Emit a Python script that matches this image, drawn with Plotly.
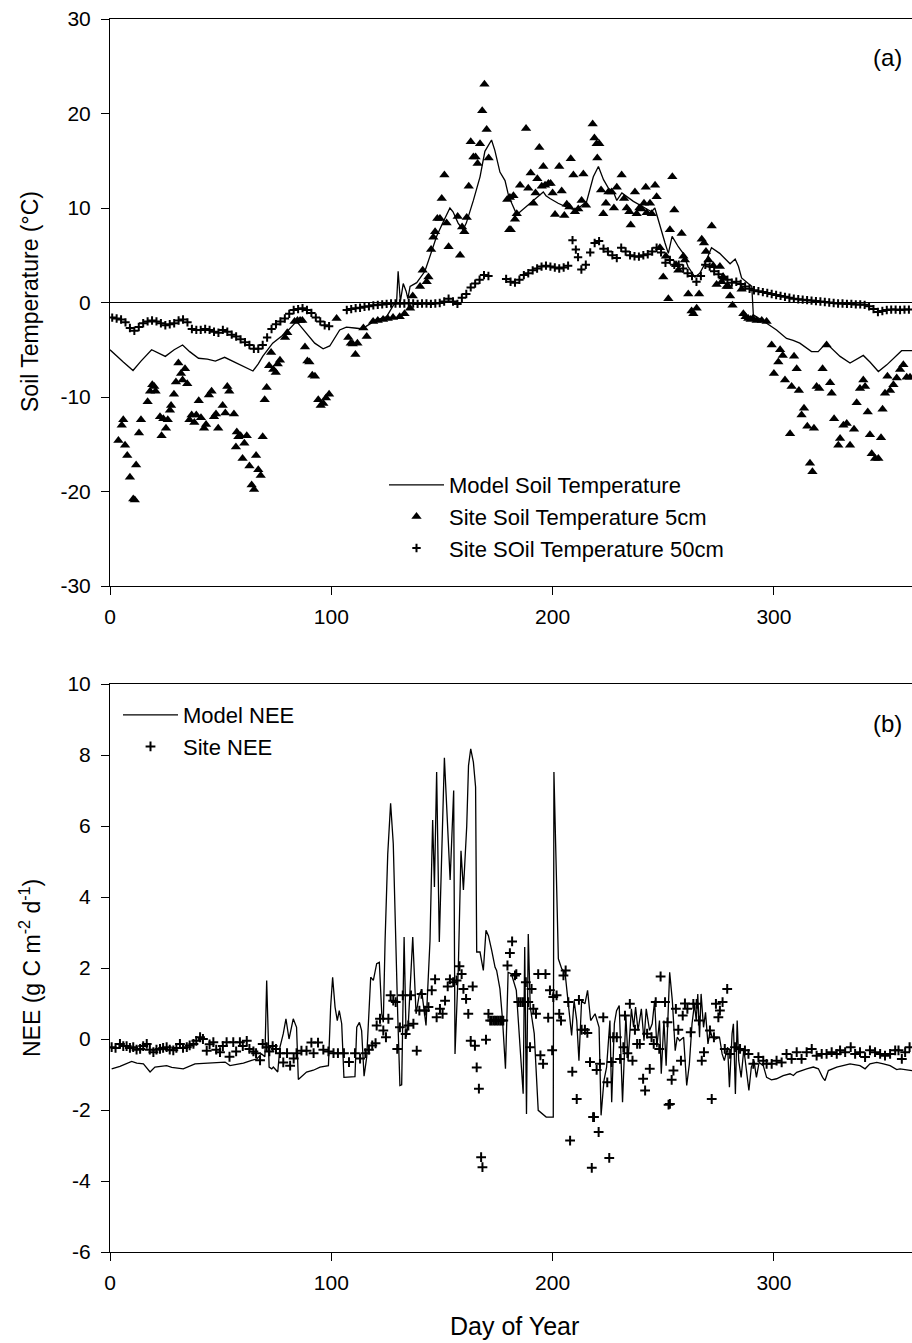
import plotly.graph_objects as go

# ---------------- Panel (a): soil temperature ----------------
model_temp_day = [0, 3, 6, 10.4, 14, 18.8, 22, 25, 29, 32.8, 36, 40, 44, 47.6, 51.8, 56, 60.8, 64.6, 67, 69,
                  73.5, 79.5, 84.3, 88.8, 92.5, 96.3, 99.3, 103.8, 106.8, 110.5, 114.4, 115.9, 120, 125, 128,
                  129.5, 130.2, 131.2, 132.5, 133.8, 134.6, 135.6, 138.6, 142.3, 144.6, 147.6, 150.6, 153.6,
                  155, 157.3, 159.5, 161, 164.2, 167.2, 169.4, 172.4, 173.9, 176.2, 178.5, 180.2, 183.8, 187.5,
                  191.3, 195.8, 197, 198.8, 202.5, 206.3, 210, 212.3, 215.4, 218.4, 220.7, 223, 225.2, 227.5,
                  229, 231.3, 236.5, 241, 244.7, 246.2, 248.5, 250.8, 252.3, 254, 256.8, 259, 261.2, 264.3,
                  266.5, 268.8, 271.8, 275.5, 280.2, 282.5, 284, 285.4, 288.4, 290, 290.7, 293.5, 296.7, 301.2,
                  305.7, 308.7, 311.7, 317, 320, 323.6, 326.6, 329.9, 334.4, 340.4, 343.4, 347.2, 351, 355.5,
                  357.7, 362.4]
model_temp_val = [-5.0, -5.6, -6.3, -7.2, -6.2, -5.0, -5.4, -5.7, -5.0, -4.5, -5.2, -5.9, -6.0, -6.2, -5.8, -6.3,
                  -6.8, -7.25, -6.5, -5.7, -4.3, -3.2, -2.0, -3.2, -4.3, -4.9, -4.6, -2.9, -2.6, -2.7, -2.8,
                  -2.5, -1.9, -1.5, -0.3, 0.0, 3.3, 0.1, 2.0, 1.2, 0.4, 1.7, 2.1, 3.3, 4.85, 7.0, 8.55, 10.0,
                  9.6, 8.4, 7.7, 8.4, 10.8, 13.3, 16.0, 17.2, 16.1, 13.8, 12.9, 11.2, 9.3, 10.0, 10.8, 11.7,
                  11.3, 11.0, 10.5, 10.1, 9.8, 10.1, 10.7, 13.3, 14.4, 13.0, 12.1, 11.7, 10.8, 11.6, 10.7,
                  10.1, 9.6, 10.0, 8.0, 6.3, 5.2, 7.0, 5.9, 5.2, 3.8, 2.7, 3.1, 4.1, 5.8, 5.2, 4.1, 4.6, 3.8,
                  2.6, 2.0, 1.7, -1.3, -1.7, -2.2, -2.9, -3.8, -4.0, -4.3, -5.2, -5.2, -4.3, -5.0, -5.7, -6.4,
                  -5.6, -6.3, -7.3, -6.6, -5.6, -5.1, -5.1]

site_t5_day = [3.8, 5.3, 6.0, 6.8, 7.8, 9.0, 10.5, 11.2, 11.8, 13.1, 14.0, 17.0, 18.1, 19.1, 20.0, 20.6, 22.6,
               23.3, 24.1, 25.3, 26.1, 27.1, 27.6, 28.9, 29.8, 30.9, 32.1, 32.8, 33.9, 34.9, 35.9, 36.9, 38.1,
               39.0, 40.1, 41.1, 42.5, 43.4, 44.7, 45.9, 47.0, 47.9, 48.9, 50.9, 52.1, 53.0, 53.9, 56.0, 56.9,
               57.3, 58.0, 59.0, 59.9, 60.7, 61.8, 63.0, 64.0, 65.1, 66.0, 67.0, 68.1, 69.0, 69.9, 70.8, 71.9,
               72.8, 73.8, 74.9, 75.8, 76.8, 79.1, 80.1, 83.4, 84.7, 85.9, 86.9, 88.1, 89.2, 90.1, 91.4, 92.6,
               94.1, 95.2, 96.4, 97.6, 99.0, 102.4, 107.7, 108.8, 109.7, 110.9, 111.8, 114.5, 116.0, 118.9,
               121.0, 123.4, 125.5, 127.9, 130.9, 133.1, 135.6, 136.8, 140.1, 141.3, 143.1, 143.9, 145.1,
               146.1, 146.9, 147.9, 149.1, 149.9, 151.1, 152.1, 153.0, 157.1, 158.2, 159.1, 160.1, 161.2,
               162.1, 163.0, 164.2, 165.2, 166.1, 167.2, 168.2, 169.2, 170.2, 171.1, 179.5, 180.4, 180.7,
               181.1, 182.3, 183.0, 183.8, 185.3, 188.0, 189.0, 190.1, 191.3, 192.3, 193.1, 194.0, 195.1,
               195.8, 196.6, 198.1, 199.1, 200.0, 201.1, 203.0, 204.1, 205.3, 206.4, 207.6, 208.2, 209.4,
               210.1, 211.6, 213.1, 213.9, 215.1, 218.1, 218.9, 219.9, 220.2, 221.1, 221.9, 222.9, 224.1,
               225.2, 226.7, 227.7, 229.0, 231.2, 232.3, 233.5, 234.7, 235.3, 237.2, 238.0, 239.2, 240.2,
               241.3, 242.1, 242.5, 244.0, 244.8, 246.3, 247.0, 248.5, 250.0, 251.2, 252.3, 253.0, 254.1,
               255.0, 255.8, 256.8, 258.3, 259.1, 259.8, 261.3, 262.8, 263.6, 265.1, 266.2, 267.4, 268.4,
               269.3, 270.4, 271.9, 272.6, 274.1, 275.6, 276.4, 277.1, 278.6, 279.4, 280.2, 281.3, 285.4,
               286.2, 287.2, 288.4, 289.5, 290.5, 292.2, 294.5, 296.7, 299.0, 300.0, 302.0, 302.8, 304.0,
               305.0, 307.3, 308.0, 309.1, 310.3, 311.3, 312.5, 313.6, 315.1, 316.3, 317.4, 318.1, 319.3,
               320.5, 322.0, 323.8, 325.4, 326.1, 327.2, 329.1, 329.9, 331.4, 332.9, 334.4, 336.2, 337.4,
               338.9, 340.4, 341.2, 342.4, 343.4, 344.2, 345.7, 347.2, 348.4, 349.1, 350.2, 351.3, 352.5,
               354.0, 355.5, 357.0, 358.5, 360.0, 361.5]
site_t5_val = [-14.6, -13.0, -12.4, -15.1, -16.2, -18.5, -20.8, -20.9, -17.2, -13.8, -12.4, -10.5, -9.4, -8.7,
               -8.9, -9.4, -12.1, -14.1, -12.3, -13.3, -12.4, -11.4, -10.9, -9.7, -8.4, -6.4, -7.5, -8.2, -7.0,
               -8.6, -12.4, -11.9, -12.7, -11.9, -10.4, -12.2, -13.3, -12.9, -9.8, -9.4, -12.1, -11.8, -13.3,
               -10.9, -11.7, -8.9, -9.4, -11.8, -15.3, -13.7, -14.2, -14.1, -16.5, -14.9, -14.1, -17.3, -19.3,
               -19.8, -16.2, -17.7, -18.3, -14.2, -10.3, -9.0, -6.7, -5.3, -7.1, -7.4, -6.5, -6.1, -3.7, -3.2,
               -2.0, -1.9, -1.9, -1.9, -4.7, -6.2, -6.3, -7.7, -7.8, -10.3, -10.9, -10.7, -10.1, -9.7, -1.7,
               -3.7, -4.3, -4.4, -5.5, -4.3, -2.7, -3.6, -2.0, -1.9, -1.8, -1.7, -1.6, -1.5, -1.2, -0.6, 0.7,
               1.7, 3.4, 2.2, 2.7, 5.6, 6.9, 7.5, 8.9, 8.9, 11.0, 13.5, 8.4, 5.9, 9.1, 5.0, 8.0, 7.5, 9.0, 12.3,
               17.0, 15.4, 15.4, 14.7, 16.8, 20.3, 23.1, 18.3, 15.3, 10.9, 7.7, 11.1, 7.7, 11.3, 8.8, 9.4, 12.4,
               18.4, 12.1, 13.7, 10.5, 11.6, 13.1, 16.4, 12.3, 14.4, 12.4, 12.6, 12.6, 11.6, 9.3, 14.4, 11.8,
               9.2, 10.4, 10.1, 15.2, 13.5, 9.6, 9.9, 10.8, 13.6, 10.3, 18.9, 17.4, 16.8, 15.3, 16.8, 11.9, 9.4,
               10.5, 11.7, 11.7, 10.0, 12.2, 13.5, 11.0, 10.0, 9.6, 8.2, 11.7, 9.4, 10.0, 9.9, 10.5, 12.2, 9.5,
               10.5, 9.4, 12.4, 11.2, 5.8, 2.7, 4.9, 0.4, 7.7, 13.3, 9.8, 4.0, 3.4, 7.3, 4.9, 4.5, 0.9, -0.9,
               -1.2, -0.6, 0.9, 6.7, 6.3, 5.4, 4.5, 8.1, 3.9, 1.9, 3.8, 2.2, 2.7, 1.7, 1.7, 0.7, -0.3, 1.4,
               -1.2, -1.5, -1.7, -1.8, -1.7, -1.9, -1.9, -2.0, -4.5, -7.5, -6.3, -5.0, -5.6, -8.2, -13.9, -8.9,
               -5.7, -7.0, -9.3, -11.9, -11.2, -13.1, -17.0, -17.9, -13.3, -8.9, -9.1, -7.0, -4.5, -8.5, -9.6,
               -12.3, -15.1, -14.4, -13.0, -12.8, -15.1, -13.4, -10.6, -9.1, -8.2, -8.9, -11.6, -14.0, -16.0,
               -16.5, -16.5, -14.3, -11.3, -9.6, -7.8, -9.3, -8.7, -8.0, -7.1, -6.6, -7.9, -7.9]

site_t50_day = [1, 3, 5, 7, 9, 11, 13, 15, 17, 19, 21, 23, 25, 27, 29, 31, 33, 35, 37, 39, 41, 43, 45, 47, 49,
                51, 53, 55, 57, 59, 61, 63, 65, 67, 69, 71, 73, 75, 77, 79, 81, 83, 85, 87, 89, 91, 93, 95, 97,
                99, 107, 109, 111, 113, 115, 117, 119, 121, 123, 125, 127, 129, 131, 133, 135, 137, 139, 141,
                143, 145, 147, 149, 151, 153, 155, 157, 159, 161, 163, 165, 167, 169, 171, 179, 181, 183, 185,
                187, 189, 191, 193, 195, 197, 199, 201, 203, 205, 207, 209, 210.5, 211.5, 213, 215, 217, 219,
                221, 223, 225, 227, 229, 231, 233, 235, 237, 239, 241, 243, 245, 247, 249, 251, 253, 255, 257,
                259, 261, 263, 265, 267, 269, 271, 273, 275, 277, 279, 281, 283, 285, 287, 289, 291, 293, 295,
                297, 299, 301, 303, 305, 307, 309, 311, 313, 315, 317, 319, 321, 323, 325, 327, 329, 331, 333,
                335, 337, 339, 341, 343, 345, 347, 349, 351, 353, 355, 357, 359, 361]
site_t50_val = [-1.6, -1.7, -1.8, -2.1, -2.7, -3.0, -2.6, -2.2, -2.0, -1.9, -2.0, -2.2, -2.4, -2.3, -2.2, -1.9,
                -1.8, -2.1, -2.8, -2.9, -2.9, -2.8, -2.9, -3.1, -3.2, -2.9, -3.1, -3.4, -3.6, -3.9, -4.2, -4.5,
                -4.9, -4.9, -4.5, -3.7, -2.8, -2.3, -2.0, -1.7, -1.2, -0.8, -0.7, -0.6, -0.8, -1.1, -1.6, -2.0,
                -2.4, -2.5, -0.8, -0.7, -0.6, -0.55, -0.45, -0.4, -0.3, -0.25, -0.2, -0.15, -0.1, -0.1, -0.1,
                -0.1, -0.05, -0.1, -0.15, -0.1, -0.1, -0.15, -0.1, -0.05, 0.1, 0.4, 0.1, -0.15, 0.5, 0.9, 1.6,
                2.0, 2.4, 2.9, 2.8, 2.5, 2.2, 2.1, 2.4, 2.9, 3.1, 3.4, 3.6, 3.8, 3.9, 3.8, 3.7, 3.6, 3.7, 3.9,
                6.6, 5.6, 4.8, 3.5, 4.0, 5.3, 6.3, 6.5, 5.7, 5.4, 5.0, 4.7, 5.8, 5.4, 5.0, 4.9, 4.85, 5.0, 5.1,
                5.4, 5.8, 5.3, 4.2, 4.5, 4.0, 4.0, 3.6, 3.1, 2.8, 2.2, 2.8, 4.0, 3.8, 3.3, 3.0, 2.7, 2.4, 2.1,
                2.2, 1.95, 1.7, 1.45, 1.3, 1.2, 1.1, 1.0, 0.9, 0.8, 0.7, 0.6, 0.5, 0.4, 0.35, 0.3, 0.25, 0.2,
                0.15, 0.1, 0.05, 0.0, -0.05, -0.1, -0.1, -0.15, -0.15, -0.2, -0.2, -0.25, -0.4, -0.7, -1.0,
                -0.9, -0.8, -0.75, -0.75, -0.8, -0.75, -0.75]

# ---------------- Panel (b): NEE ----------------
model_nee_day = [0.75, 4.5, 9.8, 12.1, 15.1, 18.1, 20.3, 25.6, 27.9, 33.1, 38.4, 45.2, 52.0, 54.2, 60.3, 64.0,
                 66.3, 68.5, 70.0, 70.8, 71.9, 73.1, 73.8, 75.8, 76.8, 78.3, 79.5, 80.9, 82.8, 84.3, 85.1, 88.8,
                 91.9, 94.9, 98.7, 99.7, 100.6, 101.7, 102.7, 103.6, 104.7, 105.7, 108.4, 110.7, 111.5, 112.7,
                 113.7, 114.8, 116.0, 117.2, 117.8, 119.0, 120.5, 121.7, 122.8, 123.5, 124.3, 125.5, 126.8,
                 128.0, 128.8, 130.0, 131.0, 131.8, 132.9, 133.8, 134.8, 136.8, 138.3, 139.8, 140.8, 142.8,
                 144.6, 145.8, 146.6, 147.6, 148.8, 151.1, 153.7, 155.3, 155.9, 157.4, 158.6, 159.7, 161.2,
                 162.0, 163.0, 164.2, 165.2, 165.7, 167.2, 168.7, 169.9, 171.0, 172.5, 174.0, 174.7, 176.2,
                 177.4, 178.7, 179.9, 181.4, 183.6, 186.7, 187.4, 188.2, 189.0, 189.9, 191.7, 193.5, 197.1,
                 200.3, 200.6, 202.6, 204.1, 205.6, 207.1, 208.6, 209.7, 210.9, 211.9, 213.1, 214.6, 215.8,
                 217.2, 219.2, 221.0, 221.9, 223.2, 224.4, 225.9, 226.7, 227.9, 228.9, 230.1, 231.6, 233.1,
                 234.1, 235.6, 236.6, 237.5, 238.6, 240.1, 241.3, 242.3, 243.8, 245.0, 246.1, 247.1, 248.3,
                 249.1, 250.3, 251.3, 252.9, 254.1, 255.4, 256.3, 257.4, 259.2, 260.6, 261.8, 263.0, 264.1,
                 264.9, 265.6, 266.4, 267.1, 268.2, 269.1, 270.2, 271.2, 272.1, 273.6, 275.4, 276.6, 277.6,
                 279.1, 279.9, 281.1, 281.7, 282.6, 283.4, 284.1, 285.2, 286.4, 287.5, 288.7, 289.8, 291.0,
                 292.1, 293.3, 295.2, 296.7, 298.9, 301.2, 304.2, 307.3, 308.8, 310.3, 314.8, 317.8, 320.1,
                 322.0, 323.1, 324.6, 328.4, 334.4, 338.9, 341.2, 343.4, 346.5, 349.5, 352.5, 355.5, 357.0,
                 362.4]
model_nee_val = [-0.84, -0.77, -0.63, -0.68, -0.7, -0.93, -0.79, -0.75, -0.8, -0.84, -0.7, -0.68, -0.65, -0.75,
                 -0.68, -0.6, -0.56, -0.42, -0.5, 1.65, -0.79, -0.84, -0.79, -0.93, -0.23, 0.15, 0.57, 0.0, 0.57,
                 0.33, -1.14, -0.93, -0.88, -0.79, -0.75, 0.9, 1.74, 0.9, 0.52, 0.8, 0.43, -1.08, -1.08, -1.06,
                 0.33, 0.47, 0.24, -1.05, -0.51, 0.8, 1.74, 1.65, 2.12, 2.16, 0.71, 0.47, 2.77, 5.2, 6.64, 5.5,
                 3.3, 0.71, -1.31, -1.29, 2.87, 0.05, 0.43, 2.87, 0.71, 1.27, 1.37, 0.38, 2.77, 6.17, 4.28, 7.52,
                 2.73, 7.92, 4.48, 7.0, -0.42, 2.0, 5.3, 4.2, 6.0, 7.7, 8.17, 7.8, 7.1, 2.45, 2.45, 1.93, 3.06,
                 2.91, 2.49, 2.02, 1.93, 1.41, 0.52, -0.84, 1.88, 1.83, 1.37, -1.54, 2.59, -2.11, 2.96, 0.9,
                 0.15, -2.01, -2.2, -2.2, 7.52, 2.26, 1.98, 1.88, 0.99, 0.1, 1.08, 0.52, -0.61, 1.08, 0.99, 1.37,
                 0.52, 0.71, 0.33, -2.15, -1.17, -0.79, 0.52, -1.78, 0.43, 0.8, 0.94, -1.78, 0.66, -0.61, 0.85,
                 0.33, 0.9, 0.24, 0.85, -0.05, 0.85, 0.24, 0.43, 1.08, -0.23, 0.52, -0.98, 0.52, -0.75, 1.88,
                 1.08, -0.33, 0.05, -0.05, 0.05, -1.31, -0.7, 0.43, 0.99, 0.52, 1.27, 0.05, 1.27, 0.33, 0.75,
                 -0.14, 0.24, 0.05, 0.0, 0.05, -0.42, -0.61, -0.23, -1.36, 0.15, 0.43, -1.55, 0.52, -0.61, -1.08,
                 -0.28, -0.79, -1.45, -0.79, -0.61, -1.08, -0.66, -0.75, -1.08, -1.15, -1.12, -1.03, -0.98,
                 -1.03, -0.94, -0.84, -0.79, -0.84, -1.08, -1.17, -0.89, -0.79, -0.7, -0.75, -0.84, -0.7, -0.66,
                 -0.7, -0.75, -0.86, -0.84, -0.89]

site_nee_day = [0.75, 2.5, 4.5, 6, 7.5, 9, 10.5, 12, 13.6, 15, 16.6, 18, 19.6, 21, 22.6, 24, 25.6, 27, 28.6, 30,
                31.6, 33, 34.7, 36, 37.7, 39, 40.7, 42, 43.7, 45, 46.7, 48, 49.7, 51, 52.7, 54, 55.7, 57, 58.7,
                60, 61.8, 63, 64.8, 66, 67.8, 69, 70.8, 72, 73.5, 75, 76.8, 78.3, 80, 81.4, 83, 84.3, 86.5,
                88.8, 91, 92, 94, 96.4, 98.7, 101, 103, 105.7, 108, 110.7, 113, 115.4, 117, 118.5, 120, 120.5,
                122.0, 123.5, 124.7, 125.8, 126.8, 128.0, 129.1, 129.8, 131.0, 132.3, 133.6, 134.8, 136.0,
                137.1, 138.6, 139.8, 140.8, 142.3, 143.9, 145.4, 146.9, 147.6, 149.1, 150.3, 151.4, 152.6,
                153.6, 155.1, 156.6, 157.9, 158.9, 159.7, 160.9, 161.9, 163.0, 163.9, 164.9, 165.7, 166.7,
                167.7, 168.3, 169.9, 171.0, 171.8, 172.5, 173.3, 174.0, 174.8, 175.5, 176.3, 177.0, 177.7,
                179.6, 180.7, 181.7, 183.0, 183.6, 184.5, 185.4, 186.3, 187.1, 187.9, 189.0, 189.8, 190.5,
                191.3, 192.5, 193.5, 194.5, 195.7, 196.8, 198.0, 198.8, 199.8, 200.3, 201.8, 203.0, 203.8,
                204.9, 205.9, 207.1, 207.9, 208.9, 210.9, 211.9, 213.1, 214.6, 215.7, 216.9, 217.7, 218.3,
                218.7, 219.9, 220.8, 221.4, 222.9, 224.7, 225.6, 226.7, 227.4, 229.0, 230.5, 232.0, 232.7,
                233.8, 234.9, 236.1, 237.2, 238.2, 239.4, 240.9, 241.8, 242.7, 243.9, 244.7, 245.7, 246.6,
                248.2, 248.8, 250.8, 251.9, 252.4, 253.0, 253.8, 254.6, 255.7, 256.8, 258.0, 258.8, 259.8,
                260.9, 262.4, 263.6, 265.1, 266.1, 267.4, 268.4, 271.1, 271.9, 272.9, 273.8, 274.9, 275.6,
                276.8, 277.8, 278.9, 280.2, 282.4, 284.7, 286.9, 288.5, 290.7, 293.0, 295.2, 296.7, 299.0,
                301.2, 303.5, 305.7, 308.0, 310.3, 312.5, 314.8, 317.1, 319.3, 321.6, 323.8, 326.1, 328.4,
                329.9, 332.2, 334.7, 336.7, 338.9, 341.2, 343.4, 345.7, 348.0, 350.2, 352.5, 354.8, 356.3,
                357.8, 359.3, 361.3]
site_nee_val = [-0.23, -0.25, -0.14, -0.2, -0.2, -0.25, -0.23, -0.3, -0.28, -0.2, -0.14, -0.3, -0.37, -0.3,
                -0.28, -0.25, -0.23, -0.3, -0.32, -0.25, -0.14, -0.25, -0.23, -0.18, -0.14, -0.05, 0.05, 0.0,
                -0.33, -0.15, -0.09, -0.3, -0.37, -0.2, -0.09, -0.5, -0.09, -0.35, -0.09, -0.2, -0.05, -0.28,
                -0.35, -0.4, -0.6, -0.14, -0.23, -0.35, -0.2, -0.28, -0.4, -0.66, -0.4, -0.75, -0.55, -0.4,
                -0.33, -0.33, -0.1, -0.4, -0.1, -0.3, -0.35, -0.4, -0.4, -0.4, -0.65, -0.4, -0.55, -0.4, -0.3,
                -0.18, -0.12, 0.38, 0.57, 0.24, 0.05, 0.57, 1.23, 1.08, 1.04, -0.28, 0.33, 1.23, 0.14, 0.38,
                1.23, 0.43, -0.33, 0.8, 1.27, 0.8, 0.9, 1.37, 1.68, 0.61, 0.85, 0.71, 1.08, 1.48, 1.68, 1.6,
                1.65, 2.05, 1.83, 1.41, 1.13, 0.71, -0.05, 1.48, -0.19, -0.8, -1.4, -3.33, -3.61, -0.02, 0.71,
                0.52, 0.52, 0.52, 0.52, 0.52, 0.52, 0.52, 0.52, 0.52, 2.07, 2.42, 2.75, 1.79, 1.83, 1.04, 1.04,
                1.04, 1.04, 1.6, 1.04, -0.23, 1.41, 0.85, 0.71, 1.83, -0.46, -0.7, 1.83, 0.6, 1.37, -0.32, 1.18,
                1.23, 0.71, 0.52, 1.79, 1.93, 1.04, -2.86, -0.92, -1.69, 1.1, 0.26, 0.26, 0.17, -0.65, -3.63,
                -2.2, -2.2, -0.87, -2.62, -0.7, 0.61, -1.22, -3.35, -0.65, 0.05, 0.05, -0.56, -0.23, 0.66,
                -0.4, 0.99, -0.61, 0.26, -0.14, -0.14, -1.12, -1.45, 0.15, -0.84, 0.05, -0.14, 1.04, -0.28,
                1.76, 1.04, 0.47, -1.85, -1.83, -1.15, -0.89, 0.85, 0.26, -0.61, 0.66, 1.0, 0.85, 0.19, 0.99,
                0.99, 0.52, -0.61, -0.37, 0.24, -1.69, 0.05, 0.99, 0.61, 0.8, 1.04, -0.28, 1.41, -0.42, -0.23,
                -0.28, -0.32, -0.42, -0.7, -0.51, -0.61, -0.7, -0.7, -0.61, -0.66, -0.42, -0.56, -0.37, -0.56,
                -0.37, -0.28, -0.47, -0.42, -0.42, -0.37, -0.42, -0.32, -0.37, -0.23, -0.42, -0.37, -0.51,
                -0.32, -0.37, -0.42, -0.47, -0.42, -0.32, -0.32, -0.56, -0.37, -0.23]

x_ticks = [0, 100, 200, 300]
x_tick_text = ["0", "100", "200", "300"]
temp_ticks = [-30, -20, -10, 0, 10, 20, 30]
temp_tick_text = ["-30", "-20", "-10", "0", "10", "20", "30"]
nee_ticks = [-6, -4, -2, 0, 2, 4, 6, 8, 10]
nee_tick_text = ["-6", "-4", "-2", "0", "2", "4", "6", "8", "10"]

FONT = "Liberation Sans, Arial, Helvetica, sans-serif"
BLACK = "#000000"

fig = go.Figure()

fig.add_trace(go.Scatter(x=model_temp_day, y=model_temp_val, mode="lines", name="Model Soil Temperature",
                         line=dict(color=BLACK, width=1.3), xaxis="x", yaxis="y", legend="legend"))
fig.add_trace(go.Scatter(x=site_t5_day, y=site_t5_val, mode="markers", name="Site Soil Temperature 5cm",
                         marker=dict(symbol="triangle-up", size=9, color=BLACK), xaxis="x", yaxis="y",
                         legend="legend"))
fig.add_trace(go.Scatter(x=site_t50_day, y=site_t50_val, mode="markers", name="Site SOil Temperature 50cm",
                         marker=dict(symbol="cross-thin", size=6, color=BLACK, line=dict(width=2, color=BLACK)),
                         xaxis="x", yaxis="y", legend="legend"))

fig.add_trace(go.Scatter(x=model_nee_day, y=model_nee_val, mode="lines", name="Model NEE",
                         line=dict(color=BLACK, width=1.3), xaxis="x2", yaxis="y2", legend="legend2"))
fig.add_trace(go.Scatter(x=site_nee_day, y=site_nee_val, mode="markers", name="Site NEE",
                         marker=dict(symbol="cross-thin", size=7, color=BLACK, line=dict(width=2, color=BLACK)),
                         xaxis="x2", yaxis="y2", legend="legend2"))

H_TOT = 1343
T, B = 19, 91
PH = H_TOT - T - B


def py(px):
    return (H_TOT - B - px) / PH


def px_x(px):
    return (px - 110) / 802.0


axis_common = dict(showline=True, linecolor=BLACK, linewidth=1, ticks="outside", ticklen=8, tickwidth=1,
                   tickcolor=BLACK, showgrid=False, zeroline=False,
                   tickfont=dict(family=FONT, size=21, color=BLACK))

fig.update_layout(
    width=912, height=1343,
    margin=dict(l=110, r=0, t=T, b=B),
    paper_bgcolor="white", plot_bgcolor="white",
    font=dict(family=FONT, color=BLACK),
    hovermode=False,
    xaxis=dict(domain=[0, 1], range=[0, 362.4], tickvals=x_ticks, ticktext=x_tick_text, anchor="y",
               mirror=True, ticklabelstandoff=4, **axis_common),
    yaxis=dict(domain=[py(586), 1], range=[-30, 30], tickvals=temp_ticks, ticktext=temp_tick_text,
               anchor="x", ticklabelstandoff=6, **axis_common),
    xaxis2=dict(domain=[0, 1], range=[0, 362.4], tickvals=x_ticks, ticktext=x_tick_text, anchor="y2",
                mirror=True, ticklabelstandoff=4, **axis_common),
    yaxis2=dict(domain=[0, py(684)], range=[-6, 10], tickvals=nee_ticks, ticktext=nee_tick_text,
                anchor="x2", ticklabelstandoff=6, **axis_common),
    legend=dict(x=px_x(384), y=py(464), xanchor="left", yanchor="top", bgcolor="rgba(0,0,0,0)",
                font=dict(family=FONT, size=22, color=BLACK), itemwidth=55, tracegroupgap=0,
                traceorder="normal"),
    legend2=dict(x=px_x(118), y=py(694), xanchor="left", yanchor="top", bgcolor="rgba(0,0,0,0)",
                 font=dict(family=FONT, size=22, color=BLACK), itemwidth=55, tracegroupgap=0,
                 traceorder="normal"),
    shapes=[dict(type="line", xref="x", yref="y", x0=0, x1=362.4, y0=0, y1=0,
                 line=dict(color=BLACK, width=1))],
    annotations=[
        dict(text="(a)", x=px_x(887), y=py(58), xref="paper", yref="paper", showarrow=False,
             xanchor="center", yanchor="middle", font=dict(family=FONT, size=24, color=BLACK)),
        dict(text="(b)", x=px_x(887), y=py(723), xref="paper", yref="paper", showarrow=False,
             xanchor="center", yanchor="middle", font=dict(family=FONT, size=24, color=BLACK)),
        dict(text="Soil Temperature (°C)", x=px_x(30), y=py(302), xref="paper", yref="paper",
             xanchor="center", yanchor="middle", showarrow=False, textangle=-90,
             font=dict(family=FONT, size=23, color=BLACK)),
        dict(text="NEE (g C m<sup>-2</sup> d<sup>-1</sup>)", x=px_x(30), y=py(968), xref="paper",
             yref="paper", xanchor="center", yanchor="middle", showarrow=False, textangle=-90,
             font=dict(family=FONT, size=23, color=BLACK)),
        dict(text="Day of Year", x=px_x(514), y=py(1326), xref="paper", yref="paper", showarrow=False,
             xanchor="center", yanchor="middle", font=dict(family=FONT, size=25, color=BLACK)),
    ],
)

# remove the browser's default 8px body margin so the figure sits at the page origin; hide the modebar
fig.write_html("out.html", config={"displayModeBar": False},
               post_script="document.body.style.margin='0px';document.body.style.padding='0px';")
